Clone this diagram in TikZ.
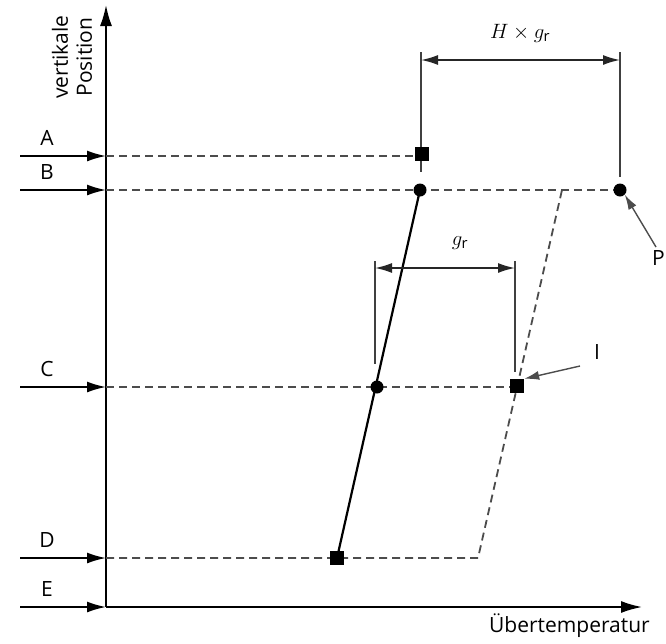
\documentclass[tikz,border=0pt]{standalone}
\usepackage{fontspec}
\setmainfont{Open Sans}
\usetikzlibrary{arrows.meta,backgrounds}
\begin{document}
\begin{tikzpicture}[x=1pt,y=-1pt,
  axisline/.style={line width=1.8pt,-{Latex[length=21pt,width=12pt]}},
  inarrow/.style={line width=1.8pt,-{Latex[length=19pt,width=11pt]}},
  dashline/.style={line width=1.8pt,dash pattern=on 8pt off 5pt,black!70},
  solidline/.style={line width=2.2pt},
  dimline/.style={line width=1.6pt,black!75},
  dimarrow/.style={line width=1.6pt,black!85,{Latex[length=17pt,width=10pt]}-{Latex[length=17pt,width=10pt]}},
  sq/.style={fill=black,minimum size=14pt,inner sep=0pt,draw=none,rectangle},
  dot/.style={fill=black,circle,minimum size=13pt,inner sep=0pt,draw=none},
  lbl/.style={font=\fontsize{21}{24}\selectfont,inner sep=0pt},
  ptr/.style={line width=1.4pt,black!70,-{Latex[length=15pt,width=9pt]}}]
\useasboundingbox (0,0) rectangle (666,643);
% markers
\node[sq] (mA) at (422,154) {};
\node[dot] (mB) at (420,190) {};
\node[dot] (mP) at (620,190) {};
\node[dot] (mC) at (377,387) {};
\node[sq] (mI) at (517,386) {};
\node[sq] (mD) at (337,558) {};
\coordinate (kD) at (478,558);
\coordinate (kB) at (562,190);
\begin{scope}[on background layer]
% axes
\coordinate (O) at (106,607);
\coordinate (Ytop) at (106,5);
\coordinate (Xend) at (642,607);
\draw[axisline] (O) -- (Ytop);
\draw[axisline] (O) -- (Xend);
% level input arrows
\foreach \n/\y in {A/156,B/190,C/387,D/558,E/607}{
  \coordinate (s\n) at (20,\y);
  \coordinate (t\n) at (106,\y);
  \draw[inarrow] (s\n) -- (t\n);
  \node[lbl] (l\n) at (47,\y-18) {\n};
}
% dashed lines
\draw[dashline] (tA) -- (mA.center |- tA);
\draw[dashline] (tB) -- (mP.center);
\draw[dashline] (tC) -- (mI.center |- tC);
\draw[dashline] (tD) -- (kD) -- (kB);
% solid line
\draw[solidline] (mD.center) -- (mB.center);
% H x g dimension
\coordinate (h1a) at (421,52); \coordinate (h1b) at (421,172);
\coordinate (h2a) at (620,52); \coordinate (h2b) at (620,177);
\draw[dimline] (h1a) -- (h1b);
\draw[dimline] (h2a) -- (h2b);
\coordinate (ha) at (421,60); \coordinate (hb) at (620,60);
\draw[dimarrow] (ha) -- (hb);
% g dimension
\coordinate (g1a) at (375,261); \coordinate (g1b) at (375,364);
\coordinate (g2a) at (515,261); \coordinate (g2b) at (515,372);
\draw[dimline] (g1a) -- (g1b);
\draw[dimline] (g2a) -- (g2b);
\coordinate (ga) at (375,268); \coordinate (gb) at (515,268);
\draw[dimarrow] (ga) -- (gb);
\end{scope}
\node[lbl,rotate=90,align=center] (ylab) at (72,57) {vertikale\\Position};
\node[lbl,anchor=north east] (xlab) at (650,614) {Übertemperatur};
\node[inner sep=0pt,font=\fontsize{21}{23}\selectfont] (hlab) at (520,33) {$H\times g_{\mathrm{r}}$};
\node[inner sep=0pt,font=\fontsize{21}{23}\selectfont] (glab) at (460,243) {$g_{\mathrm{r}}$};
% pointers
\node[lbl] (lI) at (597,352) {I};
\coordinate (pI) at (580,366);
\draw[ptr] (pI) -- (mI.north east);
\node[lbl,anchor=west] (lP) at (652,258) {P};
\coordinate (pP) at (656,247);
\draw[ptr] (pP) -- (mP.south east);
\end{tikzpicture}
\end{document}
